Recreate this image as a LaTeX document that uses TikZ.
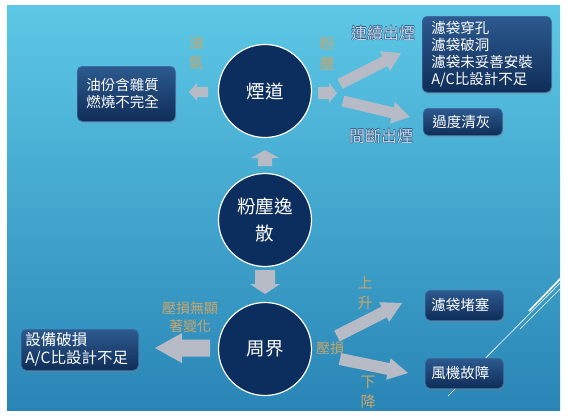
\documentclass[tikz,border=0pt]{standalone}
\usepackage{fontspec}
\setmainfont{Noto Sans CJK TC}
\usepackage{tikz}
\usetikzlibrary{calc,shadows}
\definecolor{bgtop}{HTML}{5DC8E6}
\definecolor{bgbot}{HTML}{2985B6}
\definecolor{navy}{HTML}{0B2E5E}
\definecolor{boxtop}{HTML}{2D5A8F}
\definecolor{boxbot}{HTML}{0F2D58}
\definecolor{boxedge}{HTML}{3A679C}
\definecolor{shaft}{HTML}{B7BBC6}
\definecolor{cuegold}{HTML}{C9A56B}
\definecolor{smokefill}{HTML}{C8DDEC}
\definecolor{smokeedge}{HTML}{30527E}
\tikzset{
  hub/.style={circle, draw=white, line width=1.2pt, fill=navy, text=white, minimum size=93pt, inner sep=0pt, font=\fontsize{18.5}{27}\selectfont, align=center},
  box/.style={rounded corners=5pt, draw=boxedge, line width=0.6pt, top color=boxtop, bottom color=boxbot, text=white, align=left, font=\fontsize{14.5}{17}\selectfont, inner xsep=9pt, inner ysep=0pt, anchor=north west, drop shadow={opacity=0.35, shadow xshift=1pt, shadow yshift=-2pt}},
  cue/.style={text=cuegold, font=\fontsize{15}{20}\selectfont, align=center, inner sep=0pt},
  smoke/.style={font=\fontsize{16}{20}\selectfont, inner sep=0pt},
  blk/.style={fill=shaft},
  deco/.style={draw=white, line width=0.6pt},
}
% outlined caption text
\newcommand{\smoketext}[1]{%
  \makebox[0pt][l]{\kern-0.5pt\textcolor{smokeedge}{#1}}%
  \makebox[0pt][l]{\kern0.5pt\textcolor{smokeedge}{#1}}%
  \makebox[0pt][l]{\raisebox{0.5pt}{\textcolor{smokeedge}{#1}}}%
  \makebox[0pt][l]{\raisebox{-0.5pt}{\textcolor{smokeedge}{#1}}}%
  \textcolor{smokefill}{#1}}
% tail, tip, shaft half width, head half width, head length
\newcommand{\blockarrow}[5]{%
  \coordinate (neck) at ($(#2)!#5pt!(#1)$);
  \fill[blk] ($(#1)!#3pt!90:(#2)$) -- ($(neck)!#3pt!90:(#2)$) -- ($(neck)!#4pt!90:(#2)$) -- (#2)
    -- ($(neck)!#4pt!-90:(#2)$) -- ($(neck)!#3pt!-90:(#2)$) -- ($(#1)!#3pt!-90:(#2)$) -- cycle;
}

\begin{document}
\begin{tikzpicture}[x=1pt, y=-1pt]
  \useasboundingbox (0,0) rectangle (568,418);
  \shade[top color=bgtop, bottom color=bgbot] (7,5) rectangle (560,410);

  % decoration lines
  \begin{scope}
    \clip (7,5) rectangle (560,410);
    \draw[deco] (448,396) -- (562,281);
    \draw[deco] (520,329) -- (562,287);
    \draw[deco, line width=1.6pt] (529,311) -- (562,277);
  \end{scope}

  % circles
  \node[hub] (flue) at (265,91) {煙道};
  \node[hub] (dust) at (265,220) {粉塵逸\\散};
  \node[hub] (rim) at (265,349) {周界};

  % block arrows
  \coordinate (upA) at (265,166);  \coordinate (upB) at (265,150);
  \coordinate (dnA) at (265,270);  \coordinate (dnB) at (265,294);
  \coordinate (oilA) at (208,92);  \coordinate (oilB) at (189,92);
  \coordinate (pmA) at (318,93);   \coordinate (pmB) at (337,93);
  \coordinate (onA) at (340,84);   \coordinate (onB) at (401,53);
  \coordinate (offA) at (343,101); \coordinate (offB) at (410,117);
  \coordinate (flatA) at (210,348); \coordinate (flatB) at (155,348);
  \coordinate (riseA) at (337,336); \coordinate (riseB) at (402,303);
  \coordinate (dropA) at (340,359); \coordinate (dropB) at (408,373);
  \blockarrow{upA}{upB}{7}{14}{8}
  \blockarrow{dnA}{dnB}{10}{15}{10}
  \blockarrow{oilA}{oilB}{5}{9}{8}
  \blockarrow{pmA}{pmB}{6}{10}{8}
  \blockarrow{onA}{onB}{5.5}{11}{18}
  \blockarrow{offA}{offB}{5.5}{11}{18}
  \blockarrow{flatA}{flatB}{8.5}{15}{27}
  \blockarrow{riseA}{riseB}{6}{11}{20}
  \blockarrow{dropA}{dropB}{6}{11}{20}

  % boxes
  \node[box, minimum width=98pt, minimum height=55pt, text width=80pt] (impure) at (77,66) {油份含雜質\\燃燒不完全};
  \node[box, minimum width=129pt, minimum height=76pt, text width=111pt] (bag) at (422,16) {濾袋穿孔\\濾袋破洞\\濾袋未妥善安裝\\A/C比設計不足};
  \node[box, minimum width=79pt, minimum height=27pt, text width=61pt] (clean) at (423,108) {過度清灰};
  \node[box, minimum width=117pt, minimum height=41pt, text width=109pt, inner xsep=4pt, font=\fontsize{15.5}{18}\selectfont] (broken) at (21,329) {設備破損\\A/C比設計不足};
  \node[box, minimum width=78pt, minimum height=30pt, text width=66pt, inner xsep=6pt] (clog) at (425,290) {濾袋堵塞};
  \node[box, minimum width=78pt, minimum height=30pt, text width=66pt, inner xsep=6pt] (fan) at (425,358) {風機故障};

  % captions
  \node[cue] (oilgas) at (196,53) {油\\氣};
  \node[cue] (pmtag) at (327,54) {粉\\塵};
  \node[smoke] (ontag) at (383,33) {\smoketext{連續出煙}};
  \node[smoke] (offtag) at (381,136) {\smoketext{間斷出煙}};
  \node[cue, font=\fontsize{14}{18}\selectfont] (nochange) at (190,317) {壓損無顯\\著變化};
  \node[cue, font=\fontsize{14}{18}\selectfont] (dp) at (330,348) {壓損};
  \node[cue] (risetag) at (365,293) {上\\升};
  \node[cue] (droptag) at (368,392) {下\\降};
\end{tikzpicture}
\end{document}
